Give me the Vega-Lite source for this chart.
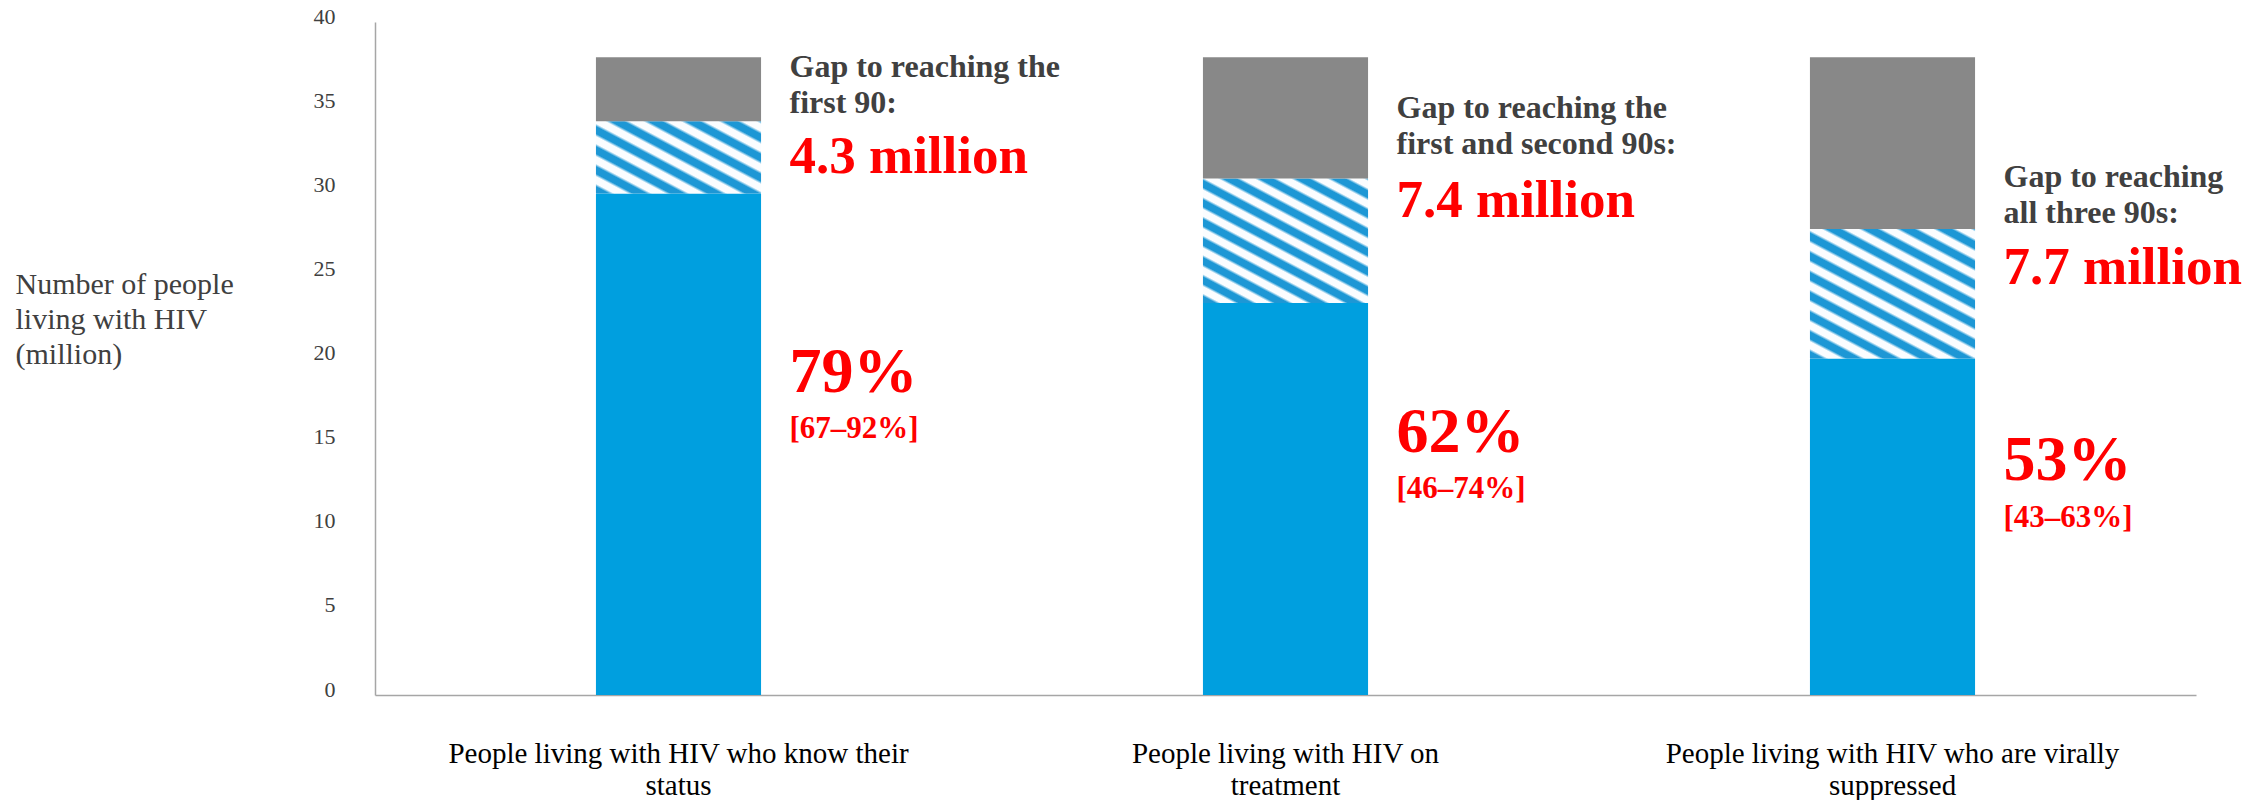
{
  "$schema": "https://vega.github.io/schema/vega-lite/v6.json",
  "width": 1821,
  "height": 673,
  "autosize": {"type": "none"},
  "padding": {"left": 375, "top": 22, "right": 65, "bottom": 105},
  "background": "#FFFFFF",
  "config": {"view": {"stroke": null}, "font": "Liberation Serif"},
  "datasets": {
    "bars": [
      {"category": "People living with HIV who know their status", "segment": "achieved", "value": 29.8},
      {"category": "People living with HIV who know their status", "segment": "gap", "value": 4.3},
      {"category": "People living with HIV who know their status", "segment": "remaining", "value": 3.8},
      {"category": "People living with HIV on treatment", "segment": "achieved", "value": 23.3},
      {"category": "People living with HIV on treatment", "segment": "gap", "value": 7.4},
      {"category": "People living with HIV on treatment", "segment": "remaining", "value": 7.2},
      {"category": "People living with HIV who are virally suppressed", "segment": "achieved", "value": 20.0},
      {"category": "People living with HIV who are virally suppressed", "segment": "gap", "value": 7.7},
      {"category": "People living with HIV who are virally suppressed", "segment": "remaining", "value": 10.2}
    ],
    "notes": [
      {"category": "People living with HIV who know their status", "kind": "head", "label": "Gap to reaching  the\nfirst 90:", "y": 36.72},
      {"category": "People living with HIV who know their status", "kind": "gap", "label": "4.3 million", "y": 31.02},
      {"category": "People living with HIV who know their status", "kind": "pct", "label": "79%", "y": 18.0},
      {"category": "People living with HIV who know their status", "kind": "range", "label": "[67–92%]", "y": 15.27},
      {"category": "People living with HIV on treatment", "kind": "head", "label": "Gap to reaching  the\nfirst and  second 90s:", "y": 34.28},
      {"category": "People living with HIV on treatment", "kind": "gap", "label": "7.4 million", "y": 28.4},
      {"category": "People living with HIV on treatment", "kind": "pct", "label": "62%", "y": 14.44},
      {"category": "People living with HIV on treatment", "kind": "range", "label": "[46–74%]", "y": 11.71},
      {"category": "People living with HIV who are virally suppressed", "kind": "head", "label": "Gap to reaching\nall three 90s:", "y": 30.18},
      {"category": "People living with HIV who are virally suppressed", "kind": "gap", "label": "7.7 million", "y": 24.42},
      {"category": "People living with HIV who are virally suppressed", "kind": "pct", "label": "53%", "y": 12.77},
      {"category": "People living with HIV who are virally suppressed", "kind": "range", "label": "[43–63%]", "y": 9.98}
    ]
  },
  "encoding": {
    "x": {
      "field": "category",
      "type": "nominal",
      "sort": null,
      "scale": {"paddingInner": 0.728, "paddingOuter": 0.364},
      "axis": {
        "title": null,
        "labelAngle": 0,
        "labelFont": "Liberation Serif",
        "labelFontSize": 29,
        "labelColor": "#000000",
        "labelLineHeight": 32,
        "labelPadding": 44,
        "labelLimit": 0,
        "ticks": false,
        "domainColor": "#A6A6A6",
        "domainWidth": 1.5,
        "labelExpr": "[slice(datum.label, 0, lastindexof(datum.label, ' ')), slice(datum.label, lastindexof(datum.label, ' ') + 1)]"
      }
    }
  },
  "layer": [
    {
      "data": {"name": "bars"},
      "mark": {"type": "bar"},
      "encoding": {
        "y": {
          "field": "value",
          "type": "quantitative",
          "stack": "zero",
          "scale": {"domain": [0, 40], "nice": false},
          "axis": {
            "values": [0, 5, 10, 15, 20, 25, 30, 35, 40],
            "grid": false,
            "ticks": false,
            "labelFont": "Liberation Serif",
            "labelFontSize": 22,
            "labelColor": "#404040",
            "labelPadding": 40,
            "labelOffset": -6,
            "domainColor": "#A6A6A6",
            "domainWidth": 1.5,
            "title": ["Number of people", "living  with HIV", "(million)"],
            "titleAngle": 0,
            "titleAlign": "left",
            "titleBaseline": "alphabetic",
            "titleX": -360,
            "titleY": 271,
            "titleFont": "Liberation Serif",
            "titleFontSize": 30,
            "titleFontWeight": "normal",
            "titleColor": "#404040",
            "titleLineHeight": 35
          }
        },
        "detail": {"field": "segment"},
        "order": {"field": "segment", "sort": "ascending"},
        "color": {
          "condition": [
            {"test": "datum.segment === 'remaining'", "value": "#888888"},
            {"test": "datum.segment === 'gap' && datum.category === 'People living with HIV who know their status'", "value": {
              "gradient": "linear", "x1": 0, "y1": 1, "x2": 1.087, "y2": 0.105,
              "stops": [
                {"offset": 0, "color": "#1D97D5"}, {"offset": 0.04375, "color": "#1D97D5"}, {"offset": 0.0625, "color": "#FBFDFF"}, {"offset": 0.10625, "color": "#FBFDFF"},
                {"offset": 0.125, "color": "#1D97D5"}, {"offset": 0.16875, "color": "#1D97D5"}, {"offset": 0.1875, "color": "#FBFDFF"}, {"offset": 0.23125, "color": "#FBFDFF"},
                {"offset": 0.25, "color": "#1D97D5"}, {"offset": 0.29375, "color": "#1D97D5"}, {"offset": 0.3125, "color": "#FBFDFF"}, {"offset": 0.35625, "color": "#FBFDFF"},
                {"offset": 0.375, "color": "#1D97D5"}, {"offset": 0.41875, "color": "#1D97D5"}, {"offset": 0.4375, "color": "#FBFDFF"}, {"offset": 0.48125, "color": "#FBFDFF"},
                {"offset": 0.5, "color": "#1D97D5"}, {"offset": 0.54375, "color": "#1D97D5"}, {"offset": 0.5625, "color": "#FBFDFF"}, {"offset": 0.60625, "color": "#FBFDFF"},
                {"offset": 0.625, "color": "#1D97D5"}, {"offset": 0.66875, "color": "#1D97D5"}, {"offset": 0.6875, "color": "#FBFDFF"}, {"offset": 0.73125, "color": "#FBFDFF"},
                {"offset": 0.75, "color": "#1D97D5"}, {"offset": 0.79375, "color": "#1D97D5"}, {"offset": 0.8125, "color": "#FBFDFF"}, {"offset": 0.85625, "color": "#FBFDFF"},
                {"offset": 0.875, "color": "#1D97D5"}, {"offset": 0.91875, "color": "#1D97D5"}, {"offset": 0.9375, "color": "#FBFDFF"}, {"offset": 0.98125, "color": "#FBFDFF"},
                {"offset": 1, "color": "#1D97D5"}
              ]
            }},
            {"test": "datum.segment === 'gap' && datum.category === 'People living with HIV on treatment'", "value": {
              "gradient": "linear", "x1": 0, "y1": 1, "x2": 0.803, "y2": -0.139,
              "stops": [
                {"offset": 0, "color": "#1D97D5"}, {"offset": 0.0318, "color": "#1D97D5"}, {"offset": 0.0455, "color": "#FBFDFF"}, {"offset": 0.0773, "color": "#FBFDFF"},
                {"offset": 0.0909, "color": "#1D97D5"}, {"offset": 0.1227, "color": "#1D97D5"}, {"offset": 0.1364, "color": "#FBFDFF"}, {"offset": 0.1682, "color": "#FBFDFF"},
                {"offset": 0.1818, "color": "#1D97D5"}, {"offset": 0.2136, "color": "#1D97D5"}, {"offset": 0.2273, "color": "#FBFDFF"}, {"offset": 0.2591, "color": "#FBFDFF"},
                {"offset": 0.2727, "color": "#1D97D5"}, {"offset": 0.3045, "color": "#1D97D5"}, {"offset": 0.3182, "color": "#FBFDFF"}, {"offset": 0.35, "color": "#FBFDFF"},
                {"offset": 0.3636, "color": "#1D97D5"}, {"offset": 0.3955, "color": "#1D97D5"}, {"offset": 0.4091, "color": "#FBFDFF"}, {"offset": 0.4409, "color": "#FBFDFF"},
                {"offset": 0.4545, "color": "#1D97D5"}, {"offset": 0.4864, "color": "#1D97D5"}, {"offset": 0.5, "color": "#FBFDFF"}, {"offset": 0.5318, "color": "#FBFDFF"},
                {"offset": 0.5455, "color": "#1D97D5"}, {"offset": 0.5773, "color": "#1D97D5"}, {"offset": 0.5909, "color": "#FBFDFF"}, {"offset": 0.6227, "color": "#FBFDFF"},
                {"offset": 0.6364, "color": "#1D97D5"}, {"offset": 0.6682, "color": "#1D97D5"}, {"offset": 0.6818, "color": "#FBFDFF"}, {"offset": 0.7136, "color": "#FBFDFF"},
                {"offset": 0.7273, "color": "#1D97D5"}, {"offset": 0.7591, "color": "#1D97D5"}, {"offset": 0.7727, "color": "#FBFDFF"}, {"offset": 0.8045, "color": "#FBFDFF"},
                {"offset": 0.8182, "color": "#1D97D5"}, {"offset": 0.85, "color": "#1D97D5"}, {"offset": 0.8636, "color": "#FBFDFF"}, {"offset": 0.8955, "color": "#FBFDFF"},
                {"offset": 0.9091, "color": "#1D97D5"}, {"offset": 0.9409, "color": "#1D97D5"}, {"offset": 0.9545, "color": "#FBFDFF"}, {"offset": 0.9864, "color": "#FBFDFF"},
                {"offset": 1, "color": "#1D97D5"}
              ]
            }},
            {"test": "datum.segment === 'gap'", "value": {
              "gradient": "linear", "x1": 0, "y1": 1, "x2": 0.779, "y2": -0.15,
              "stops": [
                {"offset": 0, "color": "#1D97D5"}, {"offset": 0.0318, "color": "#1D97D5"}, {"offset": 0.0455, "color": "#FBFDFF"}, {"offset": 0.0773, "color": "#FBFDFF"},
                {"offset": 0.0909, "color": "#1D97D5"}, {"offset": 0.1227, "color": "#1D97D5"}, {"offset": 0.1364, "color": "#FBFDFF"}, {"offset": 0.1682, "color": "#FBFDFF"},
                {"offset": 0.1818, "color": "#1D97D5"}, {"offset": 0.2136, "color": "#1D97D5"}, {"offset": 0.2273, "color": "#FBFDFF"}, {"offset": 0.2591, "color": "#FBFDFF"},
                {"offset": 0.2727, "color": "#1D97D5"}, {"offset": 0.3045, "color": "#1D97D5"}, {"offset": 0.3182, "color": "#FBFDFF"}, {"offset": 0.35, "color": "#FBFDFF"},
                {"offset": 0.3636, "color": "#1D97D5"}, {"offset": 0.3955, "color": "#1D97D5"}, {"offset": 0.4091, "color": "#FBFDFF"}, {"offset": 0.4409, "color": "#FBFDFF"},
                {"offset": 0.4545, "color": "#1D97D5"}, {"offset": 0.4864, "color": "#1D97D5"}, {"offset": 0.5, "color": "#FBFDFF"}, {"offset": 0.5318, "color": "#FBFDFF"},
                {"offset": 0.5455, "color": "#1D97D5"}, {"offset": 0.5773, "color": "#1D97D5"}, {"offset": 0.5909, "color": "#FBFDFF"}, {"offset": 0.6227, "color": "#FBFDFF"},
                {"offset": 0.6364, "color": "#1D97D5"}, {"offset": 0.6682, "color": "#1D97D5"}, {"offset": 0.6818, "color": "#FBFDFF"}, {"offset": 0.7136, "color": "#FBFDFF"},
                {"offset": 0.7273, "color": "#1D97D5"}, {"offset": 0.7591, "color": "#1D97D5"}, {"offset": 0.7727, "color": "#FBFDFF"}, {"offset": 0.8045, "color": "#FBFDFF"},
                {"offset": 0.8182, "color": "#1D97D5"}, {"offset": 0.85, "color": "#1D97D5"}, {"offset": 0.8636, "color": "#FBFDFF"}, {"offset": 0.8955, "color": "#FBFDFF"},
                {"offset": 0.9091, "color": "#1D97D5"}, {"offset": 0.9409, "color": "#1D97D5"}, {"offset": 0.9545, "color": "#FBFDFF"}, {"offset": 0.9864, "color": "#FBFDFF"},
                {"offset": 1, "color": "#1D97D5"}
              ]
            }}
          ],
          "value": "#009FDF"
        }
      }
    },
    {
      "data": {"name": "notes"},
      "transform": [{"filter": "datum.kind === 'head'"}],
      "mark": {"type": "text", "align": "left", "baseline": "alphabetic", "dx": 111, "font": "Liberation Serif", "fontWeight": "bold", "fontSize": 32, "color": "#404040", "lineBreak": "\n", "lineHeight": 36},
      "encoding": {
        "y": {"field": "y", "type": "quantitative"},
        "text": {"field": "label"}
      }
    },
    {
      "data": {"name": "notes"},
      "transform": [{"filter": "datum.kind === 'gap'"}],
      "mark": {"type": "text", "align": "left", "baseline": "alphabetic", "dx": 111, "font": "Liberation Serif", "fontWeight": "bold", "fontSize": 53, "color": "#FF0000"},
      "encoding": {
        "y": {"field": "y", "type": "quantitative"},
        "text": {"field": "label"}
      }
    },
    {
      "data": {"name": "notes"},
      "transform": [{"filter": "datum.kind === 'pct'"}],
      "mark": {"type": "text", "align": "left", "baseline": "alphabetic", "dx": 111, "font": "Liberation Serif", "fontWeight": "bold", "fontSize": 64, "color": "#FF0000"},
      "encoding": {
        "y": {"field": "y", "type": "quantitative"},
        "text": {"field": "label"}
      }
    },
    {
      "data": {"name": "notes"},
      "transform": [{"filter": "datum.kind === 'range'"}],
      "mark": {"type": "text", "align": "left", "baseline": "alphabetic", "dx": 111, "font": "Liberation Serif", "fontWeight": "bold", "fontSize": 31, "color": "#FF0000"},
      "encoding": {
        "y": {"field": "y", "type": "quantitative"},
        "text": {"field": "label"}
      }
    }
  ]
}
